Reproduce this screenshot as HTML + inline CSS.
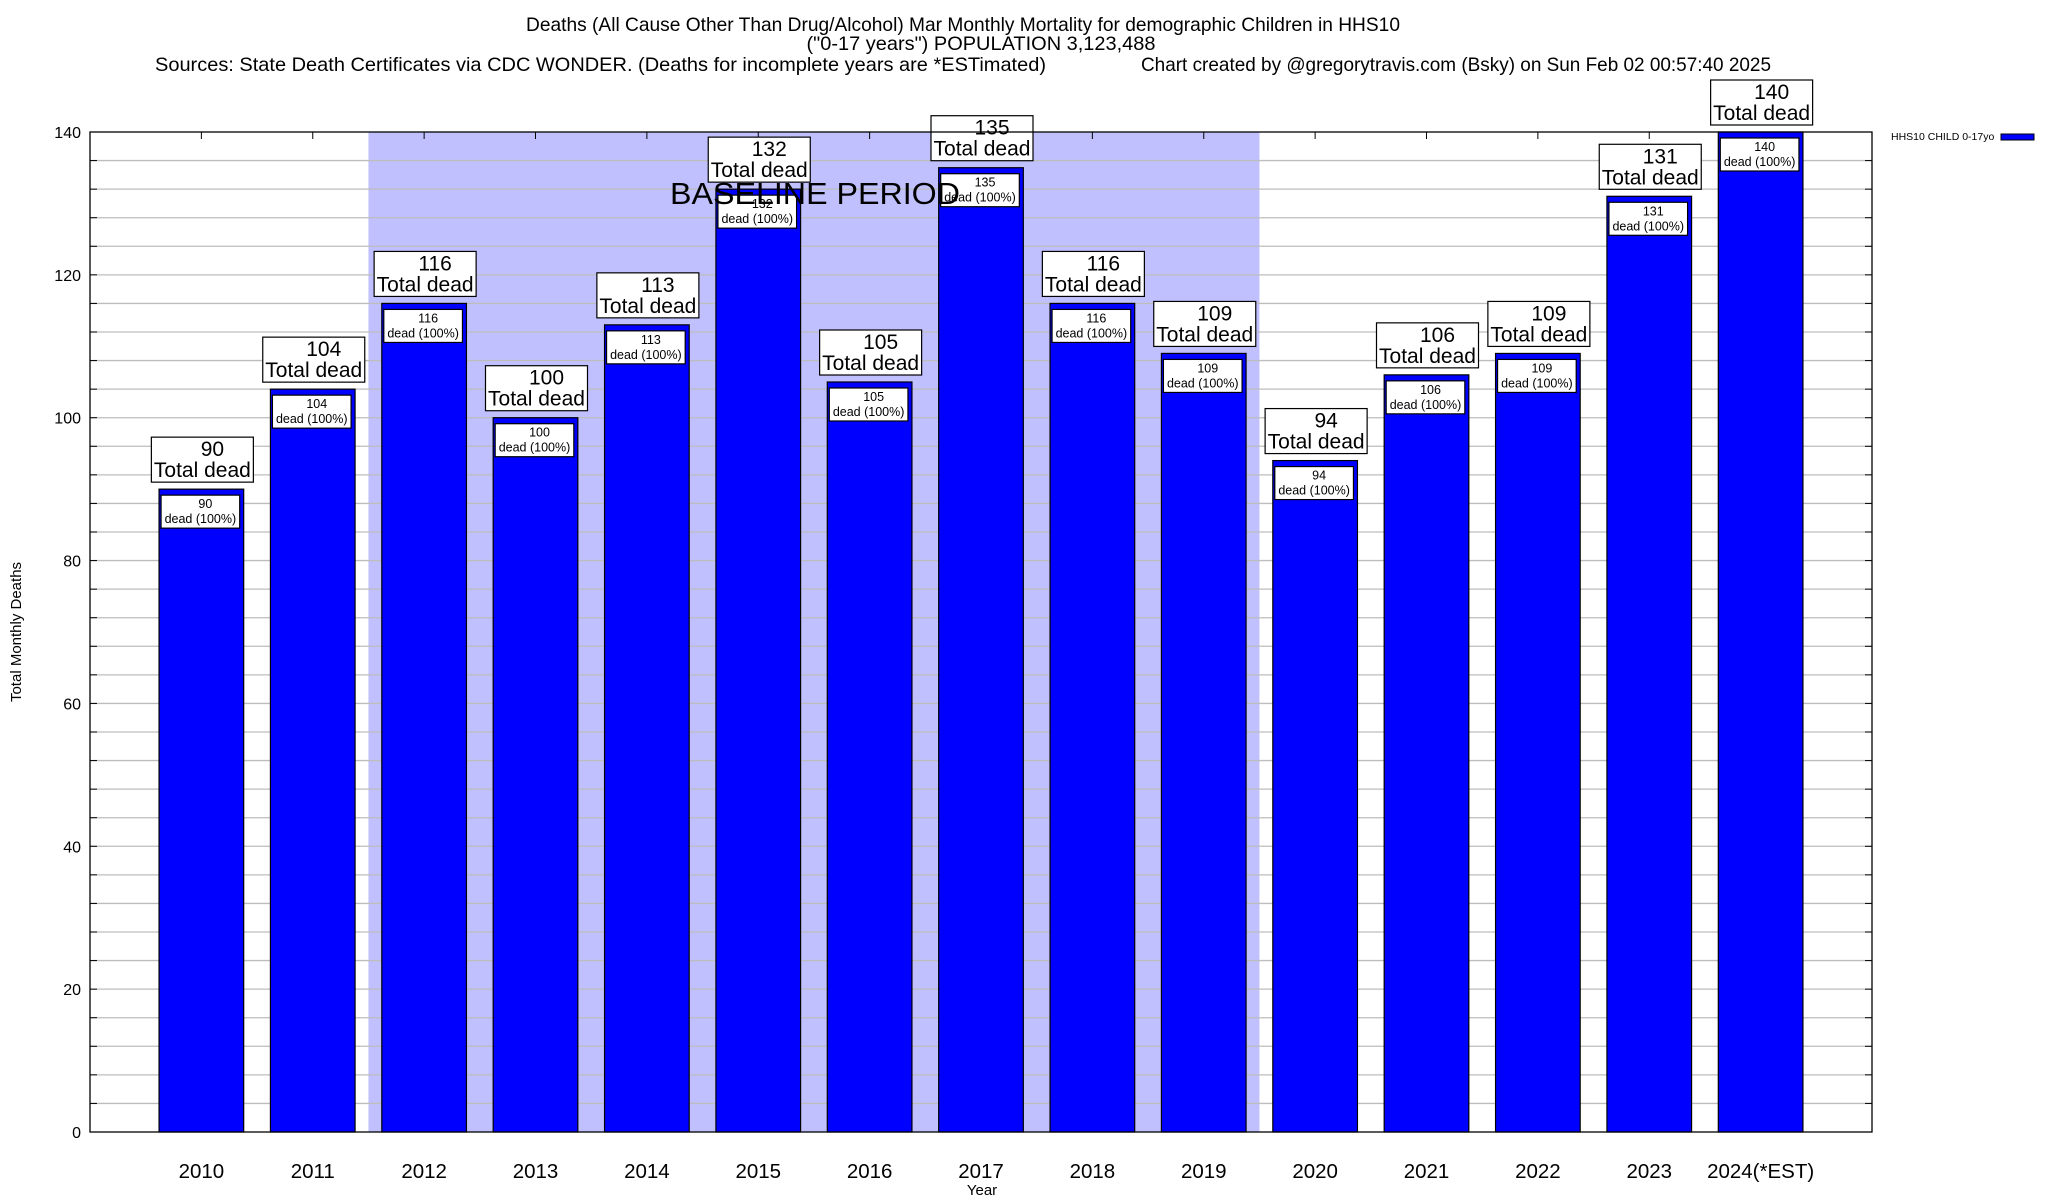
<!DOCTYPE html>
<html><head><meta charset="utf-8"><style>
html,body{margin:0;padding:0;background:#fff;}
svg{display:block;font-family:"Liberation Sans",sans-serif;}
</style></head><body>
<svg id="chart" width="2048" height="1200" viewBox="0 0 2048 1200" xmlns="http://www.w3.org/2000/svg">
<g font-size="19.5" fill="#000">
<text x="963" y="31" text-anchor="middle" textLength="874" lengthAdjust="spacingAndGlyphs">Deaths (All Cause Other Than Drug/Alcohol) Mar Monthly Mortality for demographic Children in HHS10</text>
<text x="981" y="50" text-anchor="middle" textLength="349" lengthAdjust="spacingAndGlyphs">("0-17 years") POPULATION 3,123,488</text>
<text x="155" y="71" textLength="891" lengthAdjust="spacingAndGlyphs">Sources: State Death Certificates via CDC WONDER. (Deaths for incomplete years are *ESTimated)</text>
<text x="1141" y="71" textLength="630" lengthAdjust="spacingAndGlyphs">Chart created by @gregorytravis.com (Bsky) on Sun Feb 02 00:57:40 2025</text>
</g>
<g id="plot"></g>
<text x="0" y="0" font-size="15" text-anchor="middle" transform="translate(21,632) rotate(-90)">Total Monthly Deaths</text>
<text x="982" y="1195" font-size="15" text-anchor="middle">Year</text>
<g>
<text x="1891" y="140" font-size="10.5">HHS10 CHILD 0-17yo</text>
<rect x="2001" y="134" width="33" height="6" fill="#0000ff" stroke="#000" stroke-width="1"/>
</g>
</svg>
<script>
const categories = ["2010","2011","2012","2013","2014","2015","2016","2017","2018","2019","2020","2021","2022","2023","2024(*EST)"];
const deaths = [90,104,116,100,113,132,105,135,116,109,94,106,109,131,140];
const yTicks = [0,20,40,60,80,100,120,140];
const baselineRange = [1.5, 9.5];

const L=90,R=1872,T=132,B=1132,YMAX=140;
const slot=(R-L)/(categories.length+1);
const xs=i=>L+slot*(i+1);
const ys=v=>B-(v/YMAX)*(B-T);
const NS="http://www.w3.org/2000/svg";
const g=document.getElementById('plot');
function mk(tag,attrs,parent){const e=document.createElementNS(NS,tag);for(const k in attrs)e.setAttribute(k,attrs[k]);(parent||g).appendChild(e);return e;}

const sh=mk('rect',{x:xs(baselineRange[0]),y:T,width:xs(baselineRange[1])-xs(baselineRange[0]),height:B-T,fill:'#c0c0ff'});


for(let v=4;v<YMAX;v+=4){
  const l=mk('line',{x1:L,x2:R,y1:ys(v),y2:ys(v),stroke:'#bdbdbd','stroke-width':1.3});
  
  
  mk('line',{x1:L,x2:L+7,y1:ys(v),y2:ys(v),stroke:'#000'});
  mk('line',{x1:R-7,x2:R,y1:ys(v),y2:ys(v),stroke:'#000'});
}
yTicks.forEach(v=>{
  const t=mk('text',{x:81,y:ys(v)+6,'font-size':16,'text-anchor':'end'});
  t.textContent=v;
  
  
});

const bw=slot*0.76;
categories.forEach((c,i)=>{
  const v=deaths[i],cx=xs(i),top=ys(v);
  mk('line',{x1:cx,x2:cx,y1:T,y2:T+7,stroke:'#000'});
  const bar=mk('rect',{x:cx-bw/2,y:top,width:bw,height:B-top,fill:'#0000ff',stroke:'#000','stroke-width':1.2});
  
  
  const ib=mk('rect',{x:cx-bw/2+2,y:top+6,width:bw-6,height:33,fill:'#fff',stroke:'#000','stroke-width':1.2});
  
  
  const t1=mk('text',{x:cx+4,y:top+19,'font-size':12.5,'text-anchor':'middle'});t1.textContent=v;
  
  
  const t2=mk('text',{x:cx-1,y:top+34,'font-size':12.5,'text-anchor':'middle'});t2.textContent='dead (100%)';
  
  
  const ob=mk('rect',{x:cx-50,y:top-52,width:102,height:45,fill:'#fff',stroke:'#000','stroke-width':1.2});
  
  
  const o1=mk('text',{x:cx+11,y:top-33,'font-size':21,'text-anchor':'middle'});o1.textContent=v;
  
  
  const o2=mk('text',{x:cx+1,y:top-12,'font-size':21,'text-anchor':'middle'});o2.textContent='Total dead';
  
  
  const xl=mk('text',{x:cx,y:1178,'font-size':20.5,'text-anchor':'middle'});xl.textContent=c;
  
  
});
const bt=mk('text',{x:670,y:204,'font-size':31,textLength:290,lengthAdjust:'spacingAndGlyphs'});
bt.textContent='BASELINE PERIOD';


const fr=mk('rect',{x:L,y:T,width:R-L,height:B-T,fill:'none',stroke:'#000','stroke-width':1.3});


</script>
</body></html>
